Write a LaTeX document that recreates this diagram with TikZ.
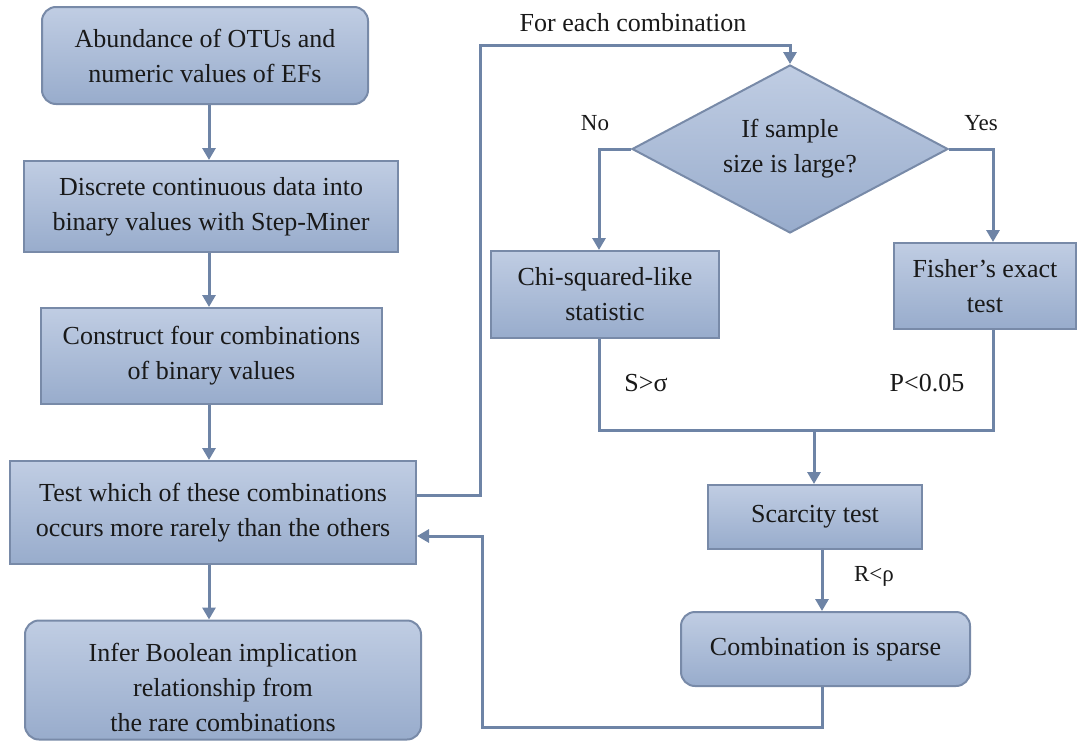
\documentclass[tikz,border=0pt]{standalone}
\usepackage{fontspec}
\setmainfont{Liberation Serif}
\usetikzlibrary{arrows.meta,shapes.geometric}
\definecolor{boxtop}{RGB}{192,205,227}
\definecolor{boxbot}{RGB}{152,172,204}
\definecolor{boxline}{RGB}{120,138,168}
\definecolor{wire}{RGB}{110,132,166}
\definecolor{ink}{RGB}{25,25,25}
\tikzset{
  box/.style={draw=boxline, line width=2pt, top color=boxtop, bottom color=boxbot,
    text=ink, align=center, inner sep=0pt, font=\fontsize{26}{35}\selectfont},
  rbox/.style={box, rounded corners=14pt},
  dia/.style={box, diamond, aspect=1.88, minimum width=316pt, minimum height=168pt},
  wireline/.style={draw=wire, line width=3pt},
  arr/.style={wireline, -{Triangle[width=13pt,length=12pt]}},
  lbl/.style={text=ink, inner sep=0pt, font=\fontsize{26}{30}\selectfont},
  slbl/.style={text=ink, inner sep=0pt, font=\fontsize{23}{28}\selectfont},
}
\begin{document}
\begin{tikzpicture}[x=1pt,y=-1pt]
\useasboundingbox (0,0) rectangle (1078,742);
% left column
\node[rbox, minimum width=326pt, minimum height=97pt] (b1) at (205,55.5)
  {Abundance of OTUs and\\numeric values of EFs};
\node[box, minimum width=374pt, minimum height=91pt] (b2) at (211,206.5)
  {Discrete continuous data into\\binary values with Step-Miner};
\node[box, minimum width=341pt, minimum height=96pt] (b3) at (211.5,356)
  {Construct four combinations\\of binary values};
\node[box, minimum width=406pt, minimum height=103pt] (b4) at (213,512.5)
  {Test which of these combinations\\occurs more rarely than the others};
\node[rbox, minimum width=396pt, minimum height=119pt] (b5) at (223,680)
  {\raisebox{-16pt}[0pt][0pt]{\begin{tabular}{@{}c@{}}Infer Boolean implication\\relationship from\\the rare combinations\end{tabular}}};
% right part
\node[dia] (d) at (790,149) {If sample\\size is large?};
\node[box, minimum width=228pt, minimum height=87pt] (chi) at (605,294.5)
  {Chi-squared-like\\statistic};
\node[box, minimum width=182pt, minimum height=86pt] (fish) at (985,286)
  {Fisher’s exact\\test};
\node[box, minimum width=214pt, minimum height=64pt] (sc) at (815,517)
  {Scarcity test};
\node[rbox, minimum width=289pt, minimum height=74pt] (comb) at (825.5,649)
  {Combination is sparse};
% helper coordinates
\coordinate (colx) at (209,0);
\coordinate (t1) at (480,45);
\coordinate (jl) at (599,430);
\coordinate (jr) at (993,430);
\coordinate (jm) at (814,430);
\coordinate (cx) at (822,0);
\coordinate (rb) at (482,727);
% left column arrows
\draw[arr] (b1.south -| colx) -- (b2.north -| colx);
\draw[arr] (b2.south -| colx) -- (b3.north -| colx);
\draw[arr] (b3.south -| colx) -- (b4.north -| colx);
\draw[arr] (b4.south -| colx) -- (b5.north -| colx);
% loop to diamond
\draw[arr] ([yshift=17.5pt]b4.east) -| (t1) -| (d.north);
% branches
\draw[arr] (d.west) -| (chi.north -| jl);
\draw[arr] (d.east) -| (fish.north -| jr);
\draw[wireline] (chi.south -| jl) -- (jl) -- (jr) -- (fish.south -| jr);
\draw[arr] (jm) -- (jm |- sc.north);
\draw[arr] (sc.south -| cx) -- (comb.north -| cx);
\draw[arr] (comb.south -| cx) |- (rb) |- ([yshift=-23.5pt]b4.east);
% labels
\node[lbl] (lfor) at (633,23) {For each combination};
\node[slbl] (lno) at (595,123) {No};
\node[slbl] (lyes) at (981,123) {Yes};
\node[lbl] (ls) at (646,383) {S>σ};
\node[lbl] (lp) at (927,383) {P<0.05};
\node[slbl] (lr) at (874,576) {R<ρ};
\end{tikzpicture}
\end{document}
